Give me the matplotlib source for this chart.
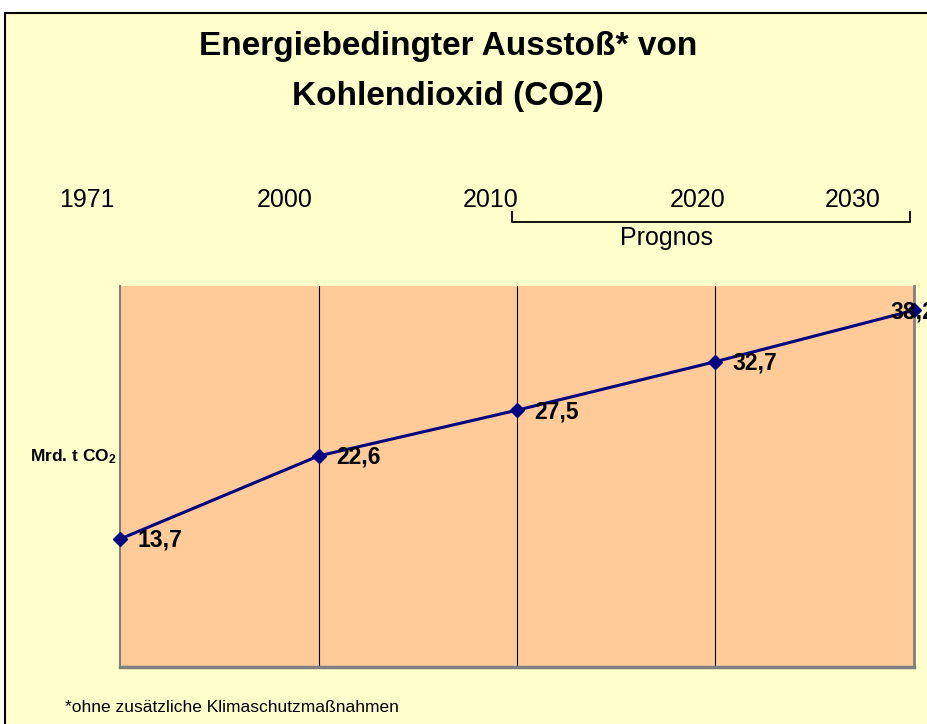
import matplotlib
matplotlib.use("Agg")
import matplotlib.pyplot as plt
from matplotlib.patches import Rectangle
from matplotlib.lines import Line2D

plt.rcParams['font.family'] = ['Liberation Sans', 'DejaVu Sans']
plt.rcParams['mathtext.default'] = 'regular'

# ---- data ----
years = ["1971", "2000", "2010", "2020", "2030"]
values = [13.7, 22.6, 27.5, 32.7, 38.2]
value_labels = ["13,7", "22,6", "27,5", "32,7", "38,2"]
title_lines = ["Energiebedingter Ausstoß* von", "Kohlendioxid (CO2)"]
forecast_label = "Prognos"
y_label = r"Mrd. t CO$_{2}$"
footnote = "*ohne zusätzliche Klimaschutzmaßnahmen"

W, H = 928, 724
fig = plt.figure(figsize=(W / 100, H / 100), dpi=100, facecolor="white")

def fx(px):
    return px / W

def fy(py):
    return 1 - py / H

# outer chart frame
fig.patches.append(Rectangle((fx(5), -0.1), 1.2, fy(13) + 0.1, transform=fig.transFigure,
                             facecolor="#FFFFCC", edgecolor="black", linewidth=1.5, zorder=-1))

ax = fig.add_axes([fx(120), fy(667), fx(914) - fx(120), fy(286) - fy(667)])
ax.set_zorder(1)
ax.set_facecolor("#FFCC99")
x = list(range(len(values)))
ax.plot(x, values, color="#000080", linewidth=2.2, marker="D", markersize=7.5,
        markerfacecolor="#000080", markeredgecolor="#000080", clip_on=False, zorder=5)
ax.set_xlim(0, len(values) - 1)
ax.set_ylim(0, 40.8)
ax.set_xticks([1, 2, 3])
ax.set_yticks([])
ax.tick_params(axis="x", length=0, labelbottom=False)
ax.grid(axis="x", color="black", linewidth=0.8)
ax.set_axisbelow(True)
ax.spines["top"].set_visible(False)
for s, lw in (("left", 1.5), ("right", 2.0), ("bottom", 2.5)):
    ax.spines[s].set_color("#808080")
    ax.spines[s].set_linewidth(lw)

for i, (v, lab) in enumerate(zip(values, value_labels)):
    dx = 12.5 if i < len(values) - 1 else -17
    ax.annotate(lab, (i, v), xytext=(dx, -1), textcoords="offset points",
                ha="left", va="center", fontsize=16.5, fontweight="bold",
                color="black", annotation_clip=False, zorder=6)

# title
fig.text(fx(448), fy(46), title_lines[0], ha="center", va="center", fontsize=24, fontweight="bold")
fig.text(fx(448), fy(96), title_lines[1], ha="center", va="center", fontsize=24, fontweight="bold")

# year labels above plot
year_px = [87, 285, 491, 698, 853]
for yr, px in zip(years, year_px):
    fig.text(fx(px), fy(200), yr, ha="center", va="center", fontsize=18)

# forecast bracket
fig.add_artist(Line2D([fx(512), fx(512), fx(910), fx(910)], [fy(212), fy(222), fy(222), fy(212)],
                      transform=fig.transFigure, color="black", linewidth=1.3))
fig.text(fx(667), fy(238), forecast_label, ha="center", va="center", fontsize=18)

fig.text(fx(117), fy(457), y_label, ha="right", va="center", fontsize=12.5, fontweight="bold")
fig.text(fx(65), fy(707), footnote, ha="left", va="center", fontsize=12.5)

fig.savefig("out.png", dpi=100, facecolor="white")
